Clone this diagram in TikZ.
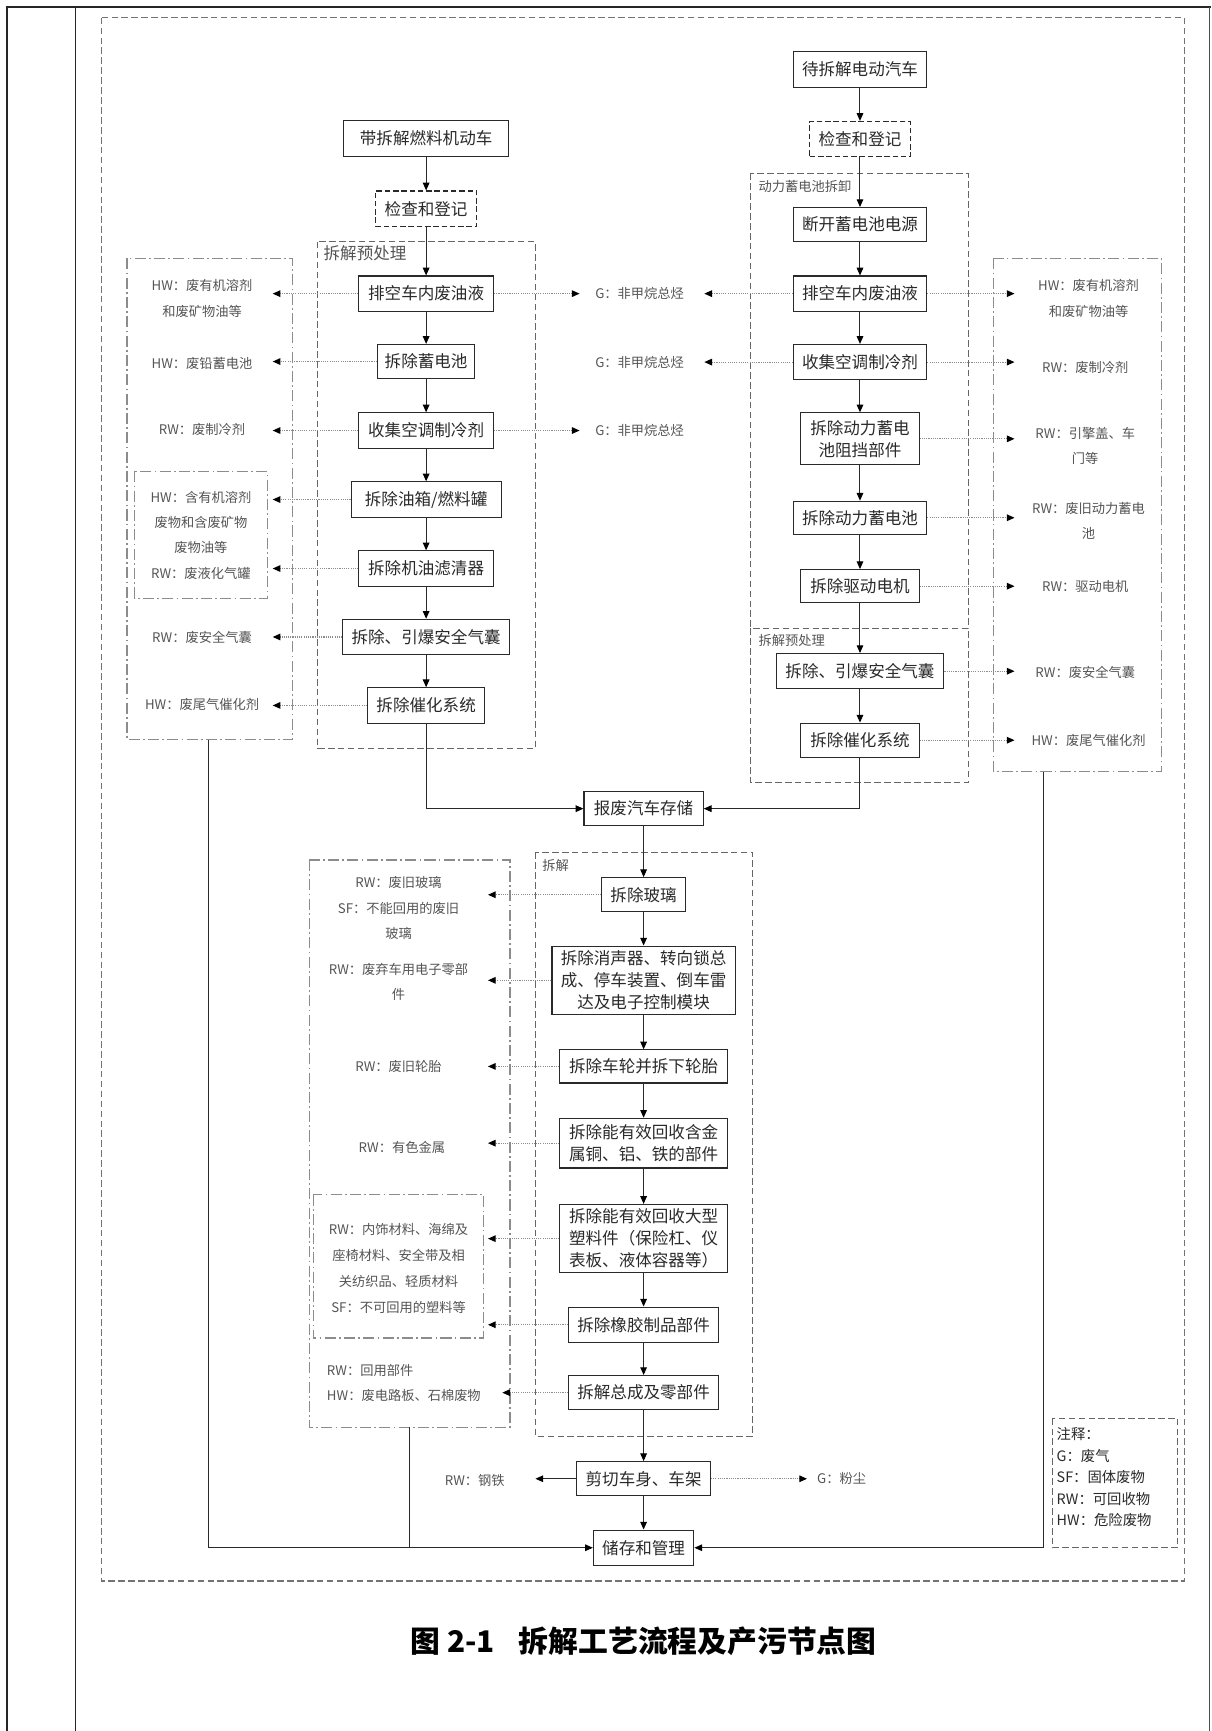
\documentclass[tikz,border=0pt]{standalone}
\usepackage{fontspec}
\setmainfont{Noto Sans CJK SC}
\usetikzlibrary{arrows.meta}
\definecolor{ink}{HTML}{2A2A2A}
\definecolor{labc}{HTML}{555555}
\begin{document}
\begin{tikzpicture}[x=1pt,y=-1pt,
  box/.style={draw=ink, line width=1pt, fill=white, inner sep=0pt, align=center,
    font=\fontsize{15}{20}\selectfont, text=ink},
  chk/.style={box, dash pattern=on 5pt off 2.5pt},
  grp/.style={draw=black!60, line width=1pt, dash pattern=on 6pt off 3pt},
  dd/.style={draw=black!45, line width=1pt, dash pattern=on 10pt off 3pt on 1.5pt off 3pt},
  flow/.style={draw=ink, line width=0.9pt, -{Triangle[length=7pt,width=6pt,color=black]}},
  plain/.style={draw=ink, line width=0.9pt},
  side/.style={draw=black!45, line width=1pt, dash pattern=on 1pt off 1pt, -{Triangle[length=7pt,width=6pt,color=black]}},
  lab/.style={font=\fontsize{12}{23}\selectfont, text=labc, align=center, inner sep=0pt},
  glab/.style={font=\fontsize{12}{16}\selectfont, text=labc, inner sep=0pt, anchor=west},
  grplab/.style={inner sep=0pt, anchor=west, text=labc}
]
\useasboundingbox (0,0) rectangle (1097,1568);
\fill[white] (0,0) rectangle (1097,1568);

% page frame
\draw[line width=2pt, black!85] (5,6) -- (1097,6);
\draw[line width=2pt, black!85] (6,5) -- (6,1568);
\draw[line width=1pt, black!85] (68,6) -- (68,1568);
\draw[line width=1pt, black!70] (1095.5,6) -- (1095.5,1568);

% outer dashed frame
\draw[draw=black!55, line width=1.2pt, dash pattern=on 6pt off 3pt] (92,16) rectangle (1073,1432);

% groups
\draw[grp] (288,219) rectangle (485,678);
\draw[grp] (680,157) rectangle (877,569);
\draw[grp] (680,569) rectangle (877,709);
\draw[grp] (485,772) rectangle (682,1301);
\draw[grp] (953,1285) rectangle (1067,1402);
\node[grplab, font=\fontsize{15}{18}\selectfont] (gl1) at (293,229) {拆解预处理};
\node[grplab, font=\fontsize{12}{15}\selectfont] (gl2) at (687,169) {动力蓄电池拆卸};
\node[grplab, font=\fontsize{12}{15}\selectfont] (gl3) at (687,580) {拆解预处理};
\node[grplab, font=\fontsize{12}{15}\selectfont] (gl4) at (491,784) {拆解};

% dash-dot output boxes
\draw[dd] (115,234) rectangle (265,670);
\draw[dd] (122,427) rectangle (242,542);
\draw[dd] (900,234) rectangle (1052,699);
\draw[dd] (280,779) rectangle (462,1293);
\draw[dd] (284,1082) rectangle (438,1212);

% left column
\node[box, minimum width=149pt, minimum height=33pt] (L0) at (386,125.5) {带拆解燃料机动车};
\node[chk, minimum width=92pt, minimum height=32pt] (L1) at (386,189) {检查和登记};
\node[box, minimum width=122pt, minimum height=32pt] (L2) at (386,266) {排空车内废油液};
\node[box, minimum width=88pt, minimum height=31pt] (L3) at (386,327.5) {拆除蓄电池};
\node[box, minimum width=122pt, minimum height=32pt] (L4) at (386,390) {收集空调制冷剂};
\node[box, minimum width=136pt, minimum height=32pt] (L5) at (386,452.5) {拆除油箱/燃料罐};
\node[box, minimum width=122pt, minimum height=32pt] (L6) at (386,515) {拆除机油滤清器};
\node[box, minimum width=151pt, minimum height=32pt] (L7) at (386,577) {拆除、引爆安全气囊};
\node[box, minimum width=106pt, minimum height=32pt] (L8) at (386,639) {拆除催化系统};

% right column
\node[box, minimum width=121pt, minimum height=32pt] (R0) at (779,63) {待拆解电动汽车};
\node[chk, minimum width=91pt, minimum height=32pt] (R1) at (779,126) {检查和登记};
\node[box, minimum width=121pt, minimum height=31pt] (R2) at (779,203.5) {断开蓄电池电源};
\node[box, minimum width=121pt, minimum height=32pt] (R3) at (779,266) {排空车内废油液};
\node[box, minimum width=121pt, minimum height=32pt] (R4) at (779,328) {收集空调制冷剂};
\node[box, minimum width=107pt, minimum height=47pt] (R5) at (779,397.5) {拆除动力蓄电\\池阻挡部件};
\node[box, minimum width=121pt, minimum height=30pt] (R6) at (779,469) {拆除动力蓄电池};
\node[box, minimum width=107pt, minimum height=30pt] (R7) at (779,531) {拆除驱动电机};
\node[box, minimum width=152pt, minimum height=32pt] (R8) at (779,608) {拆除、引爆安全气囊};
\node[box, minimum width=107pt, minimum height=31pt] (R9) at (779,670.5) {拆除催化系统};

% centre column
\node[box, minimum width=108pt, minimum height=31pt] (C0) at (583,732.5) {报废汽车存储};
\node[box, minimum width=76pt, minimum height=31pt] (C1) at (583,810.5) {拆除玻璃};
\node[box, minimum width=166pt, minimum height=62pt] (C2) at (583,888) {拆除消声器、转向锁总\\成、停车装置、倒车雷\\达及电子控制模块};
\node[box, minimum width=152pt, minimum height=30pt] (C3) at (583,966) {拆除车轮并拆下轮胎};
\node[box, minimum width=152pt, minimum height=45pt] (C4) at (583,1035.5) {拆除能有效回收含金\\属铜、铝、铁的部件};
\node[box, minimum width=152pt, minimum height=62pt] (C5) at (583,1122) {拆除能有效回收大型\\塑料件（保险杠、仪\\表板、液体容器等）};
\node[box, minimum width=136pt, minimum height=32pt] (C6) at (583,1200) {拆除橡胶制品部件};
\node[box, minimum width=136pt, minimum height=31pt] (C7) at (583,1261.5) {拆解总成及零部件};
\node[box, minimum width=121pt, minimum height=31pt] (C8) at (583,1339.5) {剪切车身、车架};
\node[box, minimum width=91pt, minimum height=32pt] (C9) at (583,1402) {储存和管理};

% main flow
\draw[flow] (L0) -- (L1);
\draw[flow] (L1) -- (L2);
\draw[flow] (L2) -- (L3);
\draw[flow] (L3) -- (L4);
\draw[flow] (L4) -- (L5);
\draw[flow] (L5) -- (L6);
\draw[flow] (L6) -- (L7);
\draw[flow] (L7) -- (L8);
\draw[flow] (L8.south) |- (C0.west);
\draw[flow] (R0) -- (R1);
\draw[flow] (R1) -- (R2);
\draw[flow] (R2) -- (R3);
\draw[flow] (R3) -- (R4);
\draw[flow] (R4) -- (R5);
\draw[flow] (R5) -- (R6);
\draw[flow] (R6) -- (R7);
\draw[flow] (R7) -- (R8);
\draw[flow] (R8) -- (R9);
\draw[flow] (R9.south) |- (C0.east);
\draw[flow] (C0) -- (C1);
\draw[flow] (C1) -- (C2);
\draw[flow] (C2) -- (C3);
\draw[flow] (C3) -- (C4);
\draw[flow] (C4) -- (C5);
\draw[flow] (C5) -- (C6);
\draw[flow] (C6) -- (C7);
\draw[flow] (C7) -- (C8);
\draw[flow] (C8) -- (C9);

% return lines to storage
\coordinate (retL) at (189,670);
\coordinate (retM) at (371,1293);
\coordinate (retR) at (945,699);
\draw[flow] (retL) |- (C9.west);
\draw[plain] (retM) -- (retM |- C9.west);
\draw[flow] (retR) |- (C9.east);

% arrow tip positions
\coordinate (tLL) at (247,0);
\coordinate (tLR) at (525,0);
\coordinate (tRL) at (638,0);
\coordinate (tRR) at (919,0);
\coordinate (tCL) at (442,0);
\coordinate (tCL2) at (455,0);
\coordinate (tSteel) at (485,0);
\coordinate (tDust) at (731,0);

% side arrows
\foreach \n in {L2,L3,L4,L5,L6,L7,L8} \draw[side] (\n.west) -- (\n.west -| tLL);
\foreach \n in {L2,L4} \draw[side] (\n.east) -- (\n.east -| tLR);
\foreach \n in {R3,R4} \draw[side] (\n.west) -- (\n.west -| tRL);
\foreach \n in {R3,R4,R5,R6,R7,R8,R9} \draw[side] (\n.east) -- (\n.east -| tRR);
\foreach \n in {C1,C2,C3,C4,C5,C6} \draw[side] (\n.west) -- (\n.west -| tCL);
\draw[side] (C7.west) -- (C7.west -| tCL2);
\draw[flow] (C8.west) -- (C8.west -| tSteel);
\draw[side] (C8.east) -- (C8.east -| tDust);

% labels left
\node[lab] (a1) at (183,270.5) {HW：废有机溶剂\\和废矿物油等};
\node[lab] (a2) at (183,329) {HW：废铅蓄电池};
\node[lab] (a3) at (183,389) {RW：废制冷剂};
\node[lab, font=\fontsize{12}{22.7}\selectfont] (a4) at (182,485) {HW：含有机溶剂\\废物和含废矿物\\废物油等\\RW：废液化气罐};
\node[lab] (a5) at (183,577) {RW：废安全气囊};
\node[lab] (a6) at (183,638) {HW：废尾气催化剂};

% labels middle G
\node[glab] (g1) at (539,266) {G：非甲烷总烃};
\node[glab] (g2) at (539,328) {G：非甲烷总烃};
\node[glab] (g3) at (539,390) {G：非甲烷总烃};

% labels right
\node[lab] (b1) at (986,270.5) {HW：废有机溶剂\\和废矿物油等};
\node[lab] (b2) at (983,333) {RW：废制冷剂};
\node[lab] (b3) at (983,404) {RW：引擎盖、车\\门等};
\node[lab] (b4) at (986,472) {RW：废旧动力蓄电\\池};
\node[lab] (b5) at (983,531) {RW：驱动电机};
\node[lab] (b6) at (983,609) {RW：废安全气囊};
\node[lab] (b7) at (986,671) {HW：废尾气催化剂};

% labels centre-left
\node[lab] (c1) at (361,822.5) {RW：废旧玻璃\\SF：不能回用的废旧\\玻璃};
\node[lab] (c2) at (361,889.5) {RW：废弃车用电子零部\\件};
\node[lab] (c3) at (361,966) {RW：废旧轮胎};
\node[lab] (c4) at (364,1039) {RW：有色金属};
\node[lab, font=\fontsize{12}{23.3}\selectfont] (c5) at (361,1149) {RW：内饰材料、海绵及\\座椅材料、安全带及相\\关纺织品、轻质材料\\SF：不可回用的塑料等};
\node[lab, anchor=west, align=left] (c6) at (296,1252.5) {RW：回用部件\\HW：废电路板、石棉废物};
\node[lab] (c7) at (430,1341) {RW：钢铁};
\node[glab] (c8) at (740,1339) {G：粉尘};

% notes
\node[anchor=north west, align=left, inner sep=0pt, text=ink, font=\fontsize{13}{19.5}\selectfont] (note) at (957,1293) {注释：\\G：废气\\SF：固体废物\\RW：可回收物\\HW：危险废物};

% caption
\node[font=\fontsize{27}{30}\selectfont\bfseries, text=black] (cap) at (583,1487) {图 2-1\hspace{0.8em}拆解工艺流程及产污节点图};
\end{tikzpicture}
\end{document}
